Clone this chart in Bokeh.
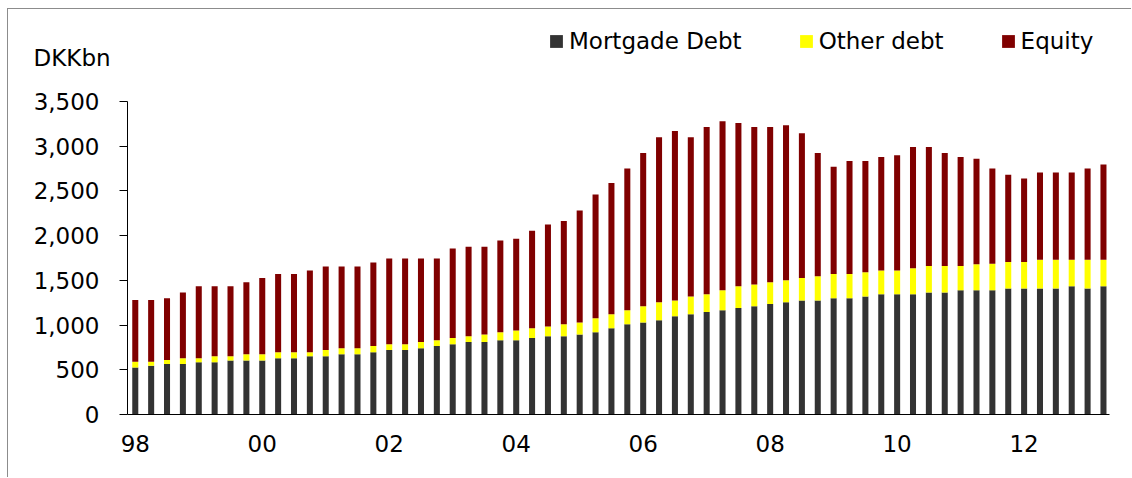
from bokeh.plotting import figure
from bokeh.layouts import column
from bokeh.models import (ColumnDataSource, Legend, LegendItem, Label, FixedTicker,
                          NumeralTickFormatter, Range1d)
from bokeh.embed import file_html
from bokeh.resources import INLINE

# ---- data (DKK bn, quarterly 1998Q1 - 2013Q2) ----
years = [1998, 1999, 2000, 2001, 2002, 2003, 2004, 2005, 2006, 2007, 2008, 2009, 2010, 2011, 2012, 2013]
year_labels = ["98", "", "00", "", "02", "", "04", "", "06", "", "08", "", "10", "", "12", ""]

mortgage = [525, 545, 565, 565, 585, 585, 605, 605, 605, 630, 630, 650, 650, 675, 675, 695,
            720, 720, 740, 765, 785, 810, 810, 830, 830, 855, 875, 875, 895, 920, 965, 1010,
            1030, 1055, 1100, 1120, 1145, 1165, 1190, 1210, 1235, 1255, 1275, 1275, 1300, 1300,
            1320, 1345, 1345, 1345, 1365, 1365, 1390, 1390, 1390, 1410, 1410, 1410, 1410, 1435,
            1410, 1435]
other = [65, 45, 45, 65, 45, 65, 45, 70, 70, 65, 65, 45, 70, 65, 65, 70,
         65, 65, 70, 65, 70, 65, 85, 90, 110, 110, 110, 135, 135, 155, 155, 155,
         180, 200, 175, 200, 200, 225, 245, 245, 245, 245, 250, 270, 270, 270,
         270, 265, 265, 290, 295, 295, 270, 290, 295, 295, 295, 320, 320, 295,
         320, 295]
equity = [690, 690, 690, 735, 805, 785, 785, 805, 850, 875, 875, 915, 935, 915, 915, 935,
          960, 960, 935, 915, 1000, 1000, 980, 1025, 1025, 1090, 1140, 1155, 1250, 1385, 1470, 1585,
          1715, 1845, 1895, 1780, 1870, 1890, 1825, 1760, 1735, 1735, 1620, 1380, 1200, 1265,
          1245, 1270, 1290, 1355, 1330, 1265, 1220, 1180, 1065, 975, 935, 975, 975, 975,
          1020, 1065]
y_ticks = [0, 500, 1000, 1500, 2000, 2500, 3000, 3500]
series_names = ["Mortgade Debt", "Other debt", "Equity"]
colors = ["#333333", "#FFFF00", "#800000"]
unit_text = "DKKbn"

n = len(mortgage)
x = list(range(n))
source = ColumnDataSource(dict(x=x, mortgage=mortgage, other=other, equity=equity))
stack_cols = ["mortgage", "other", "equity"]

FONT = "DejaVu Sans"
W = 1124
H_HEAD = 60
H_MAIN = 409

# ---------- header strip: unit label + legend ----------
head = figure(width=W, height=H_HEAD, output_backend="svg", toolbar_location=None, title=None,
              x_range=Range1d(-1000, -900), y_range=Range1d(0, 1),
              x_axis_type=None, y_axis_type=None, min_border=0)
head.frame_align = False
head.outline_line_color = None
head.grid.visible = False
head.border_fill_color = "white"

# hidden copies of the series, used only for the legend swatches
swatches = head.vbar_stack(stack_cols, x="x", width=0.38, source=source,
                           color=colors, line_color=None, visible=False)
legend = Legend(items=[LegendItem(label=nm, renderers=[r]) for nm, r in zip(series_names, swatches)],
                location=(540, 15), orientation="horizontal", background_fill_alpha=0,
                border_line_color=None, padding=0, margin=0, spacing=56,
                glyph_width=16, glyph_height=16, label_standoff=5,
                inactive_fill_alpha=0,
                label_text_font=FONT, label_text_font_size="23px", label_text_color="black")
head.add_layout(legend)
head.add_layout(Label(x=25, y=12, x_units="screen", y_units="screen", text=unit_text,
                      text_font=FONT, text_font_size="23px", text_color="black",
                      text_baseline="alphabetic"))

# ---------- main chart ----------
p = figure(width=W, height=H_MAIN, output_backend="svg", toolbar_location=None, title=None,
           x_range=Range1d(-0.49, 61.38), y_range=Range1d(0, 3500),
           min_border_left=119, min_border_right=23, min_border_top=32, min_border_bottom=64)
p.frame_align = False
p.outline_line_color = None
p.grid.visible = False
p.background_fill_color = "white"
p.border_fill_color = "white"

p.vbar_stack(stack_cols, x="x", width=0.38, source=source, color=colors, line_color=None)

p.yaxis.ticker = FixedTicker(ticks=y_ticks)
p.yaxis.formatter = NumeralTickFormatter(format="0,0")
p.yaxis.major_tick_in = 0
p.yaxis.major_tick_out = 8
p.yaxis.minor_tick_line_color = None
p.yaxis.axis_line_color = "black"
p.yaxis.major_tick_line_color = "black"
p.yaxis.major_label_standoff = 20
p.yaxis.major_label_text_font = FONT
p.yaxis.major_label_text_font_size = "23px"
p.yaxis.major_label_text_color = "black"

x_tick_pos = [i * 4 for i in range(len(years))]
p.xaxis.ticker = FixedTicker(ticks=x_tick_pos)
p.xaxis.major_label_overrides = {pos: lab for pos, lab in zip(x_tick_pos, year_labels)}
p.xaxis.major_tick_in = 0
p.xaxis.major_tick_out = 0
p.xaxis.minor_tick_line_color = None
p.xaxis.axis_line_color = "black"
p.xaxis.major_label_standoff = 20
p.xaxis.major_label_text_font = FONT
p.xaxis.major_label_text_font_size = "23px"
p.xaxis.major_label_text_color = "black"

layout = column(head, p, spacing=0)
layout.styles = {"margin-left": "8px", "margin-top": "9px",
                 "box-shadow": "-1px -1px 0 0 #8c8c8c"}

open("out.html", "w").write(file_html(layout, INLINE))
